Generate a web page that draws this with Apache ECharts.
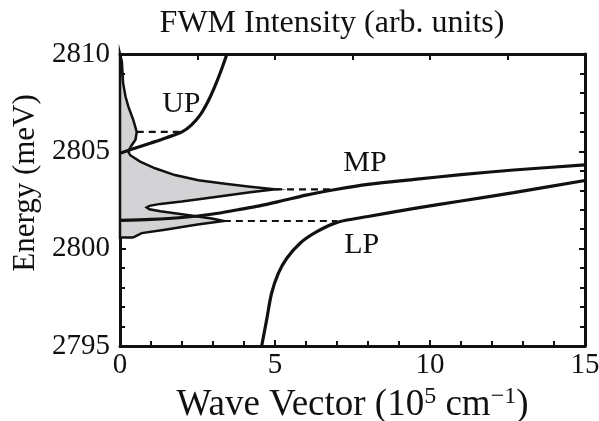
<!DOCTYPE html>
<html><head><meta charset="utf-8">
<script src="https://cdn.jsdelivr.net/npm/echarts@6/dist/echarts.min.js"></script>
<style>html,body{margin:0;padding:0;background:#fff}#c{width:599px;height:421px}</style>
</head><body><div id="c"></div>
<script>
// Upper polariton branch
const upK = [0, 0.5, 1.0, 1.5, 2.0, 2.3, 2.6, 2.85, 3.05, 3.25, 3.45];
const upE = [2804.9, 2805.17, 2805.43, 2805.7, 2806.0, 2806.35, 2806.9, 2807.6, 2808.3, 2809.1, 2810];
// Middle polariton branch
const mpK = [0, 1, 2, 3, 3.8, 4.5, 5.2, 6.0, 7.0, 8.0, 9.5, 11, 12.7, 15];
const mpE = [2801.45, 2801.5, 2801.6, 2801.78, 2802.0, 2802.2, 2802.45, 2802.75, 2803.05, 2803.3, 2803.56, 2803.8, 2804.04, 2804.3];
// Lower polariton branch
const lpK = [4.57, 4.73, 4.89, 5.11, 5.38, 5.81, 6.35, 7.0, 8.0, 9.5, 11, 12.7, 15];
const lpE = [2795, 2796.34, 2797.71, 2798.74, 2799.51, 2800.28, 2800.87, 2801.35, 2801.65, 2802.07, 2802.45, 2802.88, 2803.5];
// FWM spectrum outline (intensity, energy)
const specI = [0, 0.06, 0.1, 0.18, 0.27, 0.43, 0.54, 0.5, 0.35, 0.27, 0.33, 0.65, 1.13, 1.77, 2.53, 3.39, 4.2, 5.0, 4.2, 3.55, 2.6, 1.99, 1.3, 0.95, 0.86, 0.95, 1.3, 2.0, 2.96, 3.35, 2.5, 1.45, 0.7, 0.48, 0.4, 0];
const specE = [2810, 2809.6, 2808.5, 2807.8, 2807.3, 2806.6, 2806.0, 2805.6, 2805.25, 2804.98, 2804.8, 2804.47, 2804.13, 2803.78, 2803.52, 2803.33, 2803.18, 2803.05, 2802.9, 2802.76, 2802.55, 2802.42, 2802.3, 2802.2, 2802.12, 2802.02, 2801.92, 2801.77, 2801.55, 2801.42, 2801.24, 2800.97, 2800.8, 2800.62, 2800.57, 2800.57];
// Dashed connectors: [kStart, kEnd, E]
const dashLines = [[0.54, 2.0, 2806.0], [5.0, 6.94, 2803.05], [3.35, 7.0, 2801.42]];
// Branch labels
const labelText = ['UP', 'MP', 'LP'];
const labelK = [1.98, 7.9, 7.8];
const labelE = [2807.43, 2804.4, 2800.2];

const F = 'Liberation Serif';
const C = '#111';
const pair = (a, b) => a.map((v, i) => [v, b[i]]);
const specData = pair(specI, specE);

const chart = echarts.init(document.getElementById('c'), null, {renderer: 'canvas'});
const axisCommon = {
  axisLine: {onZero: false, lineStyle: {color: C, width: 3}},
  axisTick: {inside: true, length: 6, lineStyle: {color: C, width: 2}},
  minorTick: {show: true, splitNumber: 5, length: 5, lineStyle: {color: C, width: 2}},
  splitLine: {show: false}, minorSplitLine: {show: false}
};
const lineSeries = (k, e) => ({
  type: 'line', data: pair(k, e), showSymbol: false, smooth: 0.3, z: 3,
  lineStyle: {color: C, width: 3.2}, silent: true
});
const series = [
  {
    type: 'custom', data: specData, z: 2, silent: true,
    renderItem: (params, api) => {
      if (params.dataIndex !== 0) return;
      const pts = specData.map(d => api.coord(d));
      return {type: 'polygon', shape: {points: pts}, style: {fill: '#d3d3d5', stroke: C, lineWidth: 2.5}};
    }
  },
  lineSeries(upK, upE), lineSeries(mpK, mpE), lineSeries(lpK, lpE)
];
dashLines.forEach(d => series.push({
  type: 'line', data: [[d[0], d[2]], [d[1], d[2]]], showSymbol: false, z: 3, silent: true,
  lineStyle: {color: C, width: 2.2, type: [7, 5]}
}));
series.push({
  type: 'scatter', symbolSize: 1, silent: true, z: 4,
  itemStyle: {color: 'rgba(0,0,0,0)', opacity: 1},
  data: labelText.map((t, i) => [labelK[i], labelE[i], t]),
  label: {show: true, position: 'inside', formatter: p => p.data[2], fontFamily: F, fontSize: 30, color: C, opacity: 1}
});

chart.setOption({
  animation: false,
  title: {
    text: 'FWM Intensity (arb. units)', left: 327, textAlign: 'center', top: 3,
    textStyle: {fontFamily: F, fontSize: 32, fontWeight: 'normal', color: C}
  },
  grid: {left: 120, right: 14, top: 54, bottom: 75, outerBoundsMode: 'none', containLabel: false},
  xAxis: [
    Object.assign({
      type: 'value', min: 0, max: 15, interval: 5, position: 'bottom',
      name: '{a|Wave Vector (10}{s|5}{a| cm}{s|\u22121}{a|)}', nameLocation: 'middle', nameGap: 22,
      nameTextStyle: {fontFamily: F, fontSize: 37, color: C, rich: {
        a: {fontFamily: F, fontSize: 37, color: C, lineHeight: 40},
        s: {fontFamily: F, fontSize: 24, color: C, lineHeight: 22, verticalAlign: 'top'}
      }},
      axisLabel: {fontFamily: F, fontSize: 29, color: C, margin: 5}
    }, axisCommon),
    Object.assign({}, axisCommon, {
      type: 'value', min: 0, max: 6, interval: 1, position: 'top',
      minorTick: {show: false}, axisLabel: {show: false}
    })
  ],
  yAxis: [
    Object.assign({
      type: 'value', min: 2795, max: 2810, interval: 5, position: 'left',
      name: 'Energy (meV)', nameLocation: 'middle', nameGap: 76,
      nameTextStyle: {fontFamily: F, fontSize: 31, color: C, padding: [0, 0, 0, 34]},
      axisLabel: {fontFamily: F, fontSize: 29, color: C, margin: 10, formatter: v => String(v)}
    }, axisCommon),
    Object.assign({
      type: 'value', min: 2795, max: 2810, interval: 5, position: 'right',
      axisLabel: {show: false}
    }, axisCommon)
  ],
  series: series
});
</script></body></html>
